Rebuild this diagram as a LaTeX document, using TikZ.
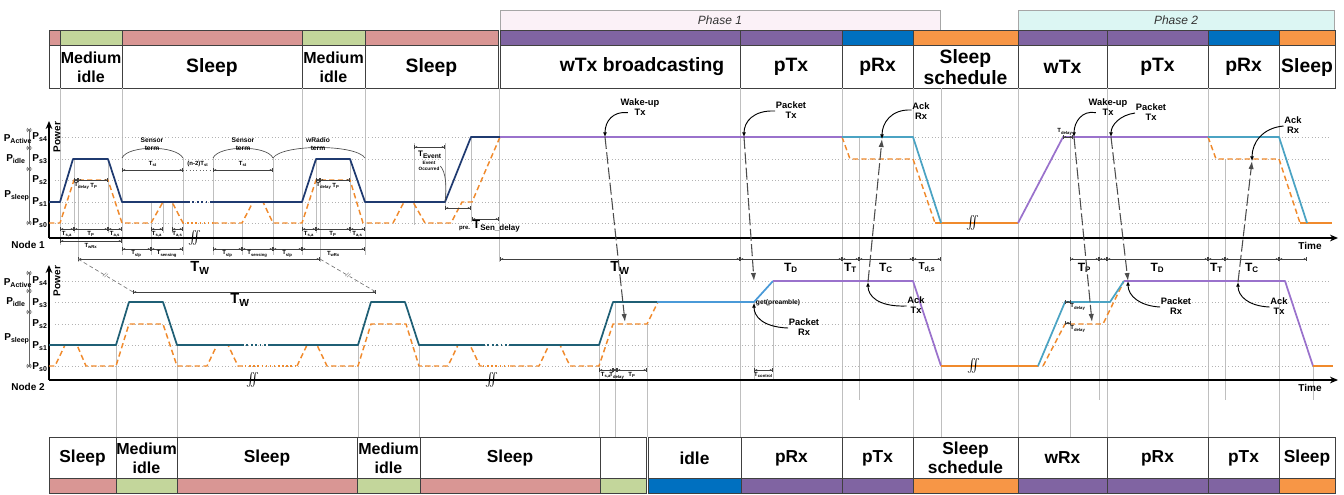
\documentclass[tikz,border=0pt]{standalone}
\usepackage{fontspec}
\setmainfont{Liberation Sans}
\usetikzlibrary{arrows.meta}
\definecolor{redbar}{HTML}{D99694}
\definecolor{greenbar}{HTML}{C3D69B}
\definecolor{purplebar}{HTML}{8064A2}
\definecolor{bluebar}{HTML}{0070C0}
\definecolor{orangebar}{HTML}{F79646}
\definecolor{phaseone}{HTML}{FBF1F7}
\definecolor{phasetwo}{HTML}{DCF6F3}
\definecolor{navyline}{HTML}{1F3A70}
\definecolor{tealline}{HTML}{1F5F75}
\definecolor{cyanline}{HTML}{4BA3C3}
\definecolor{skyline}{HTML}{4A9AD8}
\definecolor{violetline}{HTML}{9A72CC}
\definecolor{orangeline}{HTML}{F08A2C}
\newcommand{\Tl}[1]{T\textsubscript{#1}}
\newcommand{\Pl}[1]{P\textsubscript{#1}}

\begin{document}
\begin{tikzpicture}[
    x=0.75pt, y=-0.75pt,
    cell/.style={draw=black!75, line width=0.6pt},
    hdr/.style={font=\fontsize{14.5}{16}\selectfont\bfseries, align=center, inner sep=0pt},
    hdrsm/.style={font=\fontsize{12}{14}\selectfont\bfseries, align=center, inner sep=0pt},
    hdrb/.style={font=\fontsize{13}{14}\selectfont\bfseries, align=center, inner sep=0pt},
    phasebox/.style={draw=black!35, line width=0.5pt},
    phaselab/.style={font=\fontsize{9}{10}\selectfont\itshape, text=black!80},
    level/.style={black!30, dotted, line width=0.5pt},
    life/.style={black!25, line width=0.6pt},
    axisln/.style={line width=1pt, -{Stealth[length=6pt, width=5pt]}},
    nodeone/.style={navyline, line width=1.3pt, line join=round},
    nodetwo/.style={tealline, line width=1.3pt, line join=round},
    violet/.style={violetline, line width=1.3pt, line join=round},
    cyanl/.style={cyanline, line width=1.3pt, line join=round},
    skyl/.style={skyline, line width=1.3pt, line join=round},
    orangel/.style={orangeline, line width=1.3pt},
    actline/.style={orangeline, line width=1.1pt, dash pattern=on 4pt off 2.5pt, line join=round},
    msg/.style={black!70, line width=0.8pt, dash pattern=on 9pt off 2.5pt, -{Latex[length=6pt, width=4pt]}},
    callout/.style={black, line width=0.7pt, -{Latex[length=3.5pt, width=3pt]}},
    dim/.style={black!75, line width=0.4pt, {Bar[width=3pt]Latex[length=2pt, width=1.5pt]}-{Latex[length=2pt, width=1.5pt]Bar[width=3pt]}},
    tinyl/.style={font=\fontsize{4.5}{5}\selectfont\bfseries, inner sep=0.5pt},
    smalll/.style={font=\fontsize{5}{6}\selectfont\bfseries, align=center, inner sep=0.5pt},
    midl/.style={font=\fontsize{9}{10}\selectfont\bfseries, inner sep=0.5pt},
    bigl/.style={font=\fontsize{11}{12}\selectfont\bfseries, inner sep=0.5pt},
    lab/.style={font=\fontsize{7}{8}\selectfont\bfseries, align=center, inner sep=0.5pt},
    plab/.style={font=\fontsize{7.5}{8}\selectfont\bfseries, inner sep=0.5pt},
    brk/.style={font=\fontsize{9}{9}\selectfont, inner sep=0pt}
]
\useasboundingbox (0,0) rectangle (1344,494);

% phases
\draw[phasebox, fill=phaseone] (500,10) rectangle (940,30);
\node[phaselab] (phone) at (720,20) {Phase 1};
\draw[phasebox, fill=phasetwo] (1018,10) rectangle (1334,30);
\node[phaselab] (phtwo) at (1176,20) {Phase 2};

% node 1 states
\foreach \xa/\xb/\col/\txt/\st/\dx [count=\i] in {
    49/60/redbar/{}/hdr/0,
    60/122/greenbar/{Medium\\idle}/hdrsm/0,
    122/302/redbar/Sleep/hdr/0,
    302/365/greenbar/{Medium\\idle}/hdrsm/0,
    365/498/redbar/Sleep/hdr/0,
    500/740/purplebar/{wTx broadcasting}/hdr/22,
    740/842/purplebar/pTx/hdr/0,
    842/913/bluebar/pRx/hdr/0,
    913/1018/orangebar/{Sleep\\schedule}/hdr/0,
    1018/1107/purplebar/wTx/hdr/0,
    1107/1208/purplebar/pTx/hdr/0,
    1208/1279/bluebar/pRx/hdr/0,
    1279/1335/orangebar/Sleep/hdr/0}
{
    \fill[\col] (\xa,30) rectangle (\xb,45);
    \draw[cell] (\xa,30) rectangle (\xb,88) (\xa,45) -- (\xb,45);
    \node[\st] (top\i) at ({(\xa+\xb)/2+\dx},67) {\txt};
}

% node 2 states
\foreach \xa/\xb/\col/\txt/\st [count=\i] in {
    49/116/redbar/Sleep/hdrb,
    116/177/greenbar/{Medium\\idle}/hdrsm,
    177/357/redbar/Sleep/hdrb,
    357/420/greenbar/{Medium\\idle}/hdrsm,
    420/600/redbar/Sleep/hdrb,
    600/646/greenbar/{}/hdrb,
    648/741/bluebar/idle/hdrb,
    741/842/purplebar/pRx/hdrb,
    842/913/purplebar/pTx/hdrb,
    913/1018/orangebar/{Sleep\\schedule}/hdrb,
    1018/1107/purplebar/wRx/hdrb,
    1107/1208/purplebar/pRx/hdrb,
    1208/1279/purplebar/pTx/hdrb,
    1279/1335/orangebar/Sleep/hdrb}
{
    \fill[\col] (\xa,478) rectangle (\xb,493);
    \draw[cell] (\xa,437) rectangle (\xb,493) (\xa,478) -- (\xb,478);
    \node[\st] (bot\i) at ({(\xa+\xb)/2},458) {\txt};
}

% lifelines
\foreach \xx/\ya/\yb in {60/88/245, 74/159/233, 78/180/262, 108/159/233, 122/88/255,
    151/202/255, 163/202/233, 172/202/233, 183/158/255, 213/158/255, 242/223/255,
    273/158/255, 302/88/255, 316/159/233, 320/180/262, 350/159/233, 365/88/255,
    414/143/225, 445/143/210, 471/137/222, 499/88/262, 116/345/437, 177/345/437,
    358/345/437, 419/345/437, 599/345/437, 615/302/437, 647/324/437, 740/88/437,
    754/302/380, 773/281/380, 842/88/437, 859/137/400, 913/88/437, 941/88/437,
    1018/88/437, 1070/137/437, 1099/137/400, 1107/88/437, 1208/88/437, 1225/159/400,
    1279/88/437, 1313/366/400}
    \draw[life] (\xx,\ya) -- (\xx,\yb);

% power levels
\foreach \yy in {137,159,180,202,223,281,302,324,345,366}
    \draw[level] (55,\yy) -- (1330,\yy);
\foreach \yy/\k [count=\i] in {137/4,159/3,180/2,202/1,223/0} {
    \node[plab] (pa\i) at (40,\yy) {\Pl{s\k}};
    \node[plab] (pb\i) at (40,\yy+144) {\Pl{s\k}};
}
\foreach \ya/\yb/\yc/\yd [count=\i] in {130/148/169/223, 273/291/312/366} {
    \draw[black!60, line width=0.5pt] (29,\ya) -- (29,\yd);
    \foreach \yy in {\ya,\yb,\yc,\yd}
        \draw[black!60, line width=0.5pt] (26,\yy) -- (32,\yy) (27,\yy-2) -- (31,\yy+2) (27,\yy+2) -- (31,\yy-2);
}
\node[plab] (pact1) at (18,139) {\Pl{Active}};
\node[plab] (pidl1) at (16,159) {\Pl{idle}};
\node[plab] (pslp1) at (17,196) {\Pl{sleep}};
\node[plab] (pact2) at (18,283) {\Pl{Active}};
\node[plab] (pidl2) at (16,302) {\Pl{idle}};
\node[plab] (pslp2) at (17,339) {\Pl{sleep}};

% axes
\draw[axisln] (49,238) -- (1338,238);
\draw[axisln] (49,238) -- (49,121);
\draw[axisln] (49,380) -- (1338,380);
\draw[axisln] (49,380) -- (49,265);
\node[plab, rotate=90] (pow1) at (57,137) {Power};
\node[plab, rotate=90] (pow2) at (57,281) {Power};
\node[plab] (time1) at (1310,246) {Time};
\node[plab] (time2) at (1310,388) {Time};
\node[plab] (nd1) at (28,245) {Node 1};
\node[plab] (nd2) at (28,387) {Node 2};

% node 1 power
\draw[actline] (49,223) -- (60,223) -- (74,180) -- (108,180) -- (122,223) -- (151,223) -- (163,202) -- (172,202) -- (183,223);
\draw[actline, dotted] (183,223) -- (213,223);
\draw[actline] (213,223) -- (242,223) -- (253,202) -- (263,202) -- (273,223) -- (302,223) -- (316,180) -- (350,180) -- (363,223) -- (393,223) -- (404,202) -- (413,202) -- (425,223) -- (451,223) -- (462,202) -- (472,202) -- (500,137);
\draw[nodeone] (49,202) -- (60,202) -- (73,159) -- (108,159) -- (122,202) -- (188,202);
\draw[nodeone, dotted] (188,202) -- (212,202);
\draw[nodeone] (212,202) -- (302,202) -- (316,159) -- (350,159) -- (365,202) -- (445,202) -- (471,137) -- (500,137);
\draw[violet] (500,137) -- (842,137);
\draw[actline] (842,137) -- (850,159) -- (913,159) -- (935,223);
\draw[orangel] (935,223) -- (1018,223);
\draw[cyanl] (842,137) -- (913,137) -- (941,223);
\draw[violet] (1018,223) -- (1063,137) -- (1208,137);
\draw[actline] (1208,137) -- (1216,159) -- (1279,159) -- (1300,223);
\draw[orangel] (1300,223) -- (1332,223);
\draw[cyanl] (1208,137) -- (1279,137) -- (1307,223);

% node 2 power
\draw[actline] (49,366) -- (55,366) -- (65,345) -- (77,345) -- (86,366) -- (116,366) -- (129,324) -- (163,324) -- (177,366) -- (207,366) -- (217,345) -- (228,345) -- (238,366) -- (245,366);
\draw[actline, dotted] (245,366) -- (297,366);
\draw[actline] (297,366) -- (307,345) -- (317,345) -- (327,366) -- (358,366) -- (371,324) -- (406,324) -- (419,366) -- (448,366) -- (458,345) -- (470,345) -- (480,366) -- (483,366);
\draw[actline, dotted] (483,366) -- (510,366);
\draw[actline] (510,366) -- (539,366) -- (549,345) -- (560,345) -- (570,366) -- (599,366) -- (613,324) -- (647,324) -- (658,302);
\draw[actline] (1043,366) -- (1065,324) -- (1103,324) -- (1124,281);
\draw[nodetwo] (49,345) -- (116,345) -- (129,302) -- (163,302) -- (177,345) -- (242,345);
\draw[nodetwo, dotted] (242,345) -- (268,345);
\draw[nodetwo] (268,345) -- (358,345) -- (371,302) -- (405,302) -- (419,345) -- (483,345);
\draw[nodetwo, dotted] (483,345) -- (510,345);
\draw[nodetwo] (510,345) -- (599,345) -- (613,302) -- (657,302);
\draw[skyl] (657,302) -- (754,302) -- (773,281);
\draw[violet] (773,281) -- (913,281) -- (941,366);
\draw[orangel] (941,366) -- (1038,366);
\draw[cyanl] (1038,366) -- (1065,302) -- (1110,302) -- (1124,281);
\draw[violet] (1124,281) -- (1285,281) -- (1313,366);
\draw[orangel] (1313,366) -- (1333,366);

% breaks
\foreach \xx/\yy [count=\i] in {195/238, 973/223, 253/380, 492/380, 974/366}
    \node[brk] (brk\i) at (\xx,\yy) {$\int\!\!\!\int$};

% node 1 timing
\foreach \xa/\xb/\yy/\txt [count=\i] in {
    60/74/229/{\Tl{s,a}}, 74/108/229/{\Tl{P}}, 108/122/229/{\Tl{a,s}},
    151/163/229/{\Tl{s,a}}, 172/183/229/{\Tl{a,s}},
    302/316/229/{\Tl{s,a}}, 316/350/229/{\Tl{P}}, 350/365/229/{\Tl{a,s}},
    60/122/241/{\Tl{wRx}},
    122/151/249/{\Tl{slp}}, 151/183/249/{\Tl{sensing}}, 213/242/249/{\Tl{slp}},
    242/273/249/{\Tl{sensing}}, 273/302/249/{\Tl{slp}}, 302/365/249/{\Tl{wRx}},
    599/613/370/{\Tl{s,a}}, 617/647/370/{\Tl{P}}, 754/773/370/{\Tl{control}}}
{
    \draw[dim] (\xa,\yy) -- (\xb,\yy);
    \node[tinyl] (tm\i) at ({(\xa+\xb)/2},\yy+5) {\txt};
}
\draw[dim] (613,370) -- (617,370);
\node[tinyl] (tmd) at (617,376) {\Tl{delay}};
\foreach \xa [count=\i] in {74,316} {
    \draw[dim] (\xa,180) -- (\xa+4,180);
    \draw[dim] (\xa+4,180) -- (\xa+34,180);
    \node[tinyl] (dl\i) at (\xa+8,186) {\Tl{delay}};
    \node[tinyl] (tp\i) at (\xa+20,186) {\Tl{P}};
}
\draw[dim] (1063,137) -- (1073,137);
\node[tinyl] (dlc) at (1065,132) {\Tl{delay}};
\draw[dim] (1065,302) -- (1071,302);
\node[tinyl] (dld) at (1078,307) {\Tl{delay}};
\draw[dim] (1065,323) -- (1071,323);
\node[tinyl] (dle) at (1078,329) {\Tl{delay}};

% sensor terms
\draw[dim] (122,170) -- (183,170);
\node[tinyl] (st1) at (153,164) {\Tl{st}};
\draw[black!60, line width=0.5pt, dotted] (183,170) -- (213,170);
\node[tinyl] (stn) at (198,164) {(n-2)\Tl{st}};
\draw[dim] (213,170) -- (273,170);
\node[tinyl] (st2) at (243,164) {\Tl{st}};
\draw[black!70, line width=0.5pt] (122,158) .. controls (128,145) and (176,145) .. (183,158);
\draw[black!70, line width=0.5pt] (213,158) .. controls (219,145) and (267,145) .. (273,158);
\draw[black!70, line width=0.5pt] (273,158) .. controls (282,144) and (356,144) .. (365,158);
\node[smalll] (sen1) at (152,144) {Sensor\\term};
\node[smalll] (sen2) at (243,144) {Sensor\\term};
\node[smalll] (wrt) at (318,144) {wRadio\\term};

% event
\draw[dim] (414,147) -- (445,147);
\node[tinyl, font=\fontsize{6}{6}\selectfont\bfseries] (tev) at (430,155) {\Tl{Event}};
\node[smalll, font=\fontsize{3.5}{4}\selectfont\bfseries] (evo) at (429,166) {Event\\Occurred};
\coordinate (evp) at (445,202);
\draw[black!70, line width=0.5pt] (evo.east) .. controls (446,172) and (447,188) .. (evp);
\draw[dim] (445,208) -- (471,208);
\draw[dim] (472,219) -- (499,219);
\node[tinyl, anchor=east] (pre) at (471,228) {pre.};
\node[midl, anchor=west] (tsd) at (472,226) {T\textsubscript{Sen\_delay}};

% between nodes
\coordinate (tws1) at (78,259);
\coordinate (tws2) at (320,259);
\coordinate (twr1) at (133,292);
\coordinate (twr2) at (376,292);
\draw[dim] (tws1) -- (tws2);
\node[bigl] (tw1) at (200,268) {\Tl{W}};
\draw[dim] (twr1) -- (twr2);
\node[bigl] (tw2) at (240,300) {\Tl{W}};
\draw[black!55, line width=0.5pt, dash pattern=on 3pt off 2pt] (tws1) -- node[sloped, font=\tiny, fill=white, inner sep=0pt] (sl1) {//} (twr1);
\draw[black!55, line width=0.5pt, dash pattern=on 3pt off 2pt] (tws2) -- node[sloped, font=\tiny, fill=white, inner sep=0pt] (sl2) {//} (twr2);

\foreach \xa/\xb/\txt/\st [count=\i] in {
    500/740/{\Tl{W}}/bigl, 740/842/{\Tl{D}}/midl, 842/859/{\Tl{T}}/midl,
    859/913/{\Tl{C}}/midl, 913/941/{\Tl{d,s}}/plab,
    1070/1099/{\Tl{P}}/midl, 1099/1107/{}/midl, 1107/1208/{\Tl{D}}/midl,
    1208/1225/{\Tl{T}}/midl, 1225/1279/{\Tl{C}}/midl, 1279/1307/{}/midl}
{
    \draw[dim] (\xa,259) -- (\xb,259);
    \node[\st] (ph\i) at ({(\xa+\xb)/2},268) {\txt};
}

% messages
\coordinate (wka) at (605,137);
\coordinate (wkb) at (625,322);
\coordinate (pka) at (744,137);
\coordinate (pkb) at (754,281);
\coordinate (ackb) at (868,282);
\coordinate (acka) at (882,139);
\coordinate (wkc) at (1074,137);
\coordinate (wkd) at (1092,322);
\coordinate (pkc) at (1111,137);
\coordinate (pkd) at (1128,281);
\coordinate (ackd) at (1238,282);
\coordinate (ackc) at (1252,161);
\coordinate (pre2) at (754,303);
\draw[msg] (wka) -- (wkb);
\draw[msg] (pka) -- (pkb);
\draw[msg] (ackb) -- (acka);
\draw[msg] (wkc) -- (wkd);
\draw[msg] (pkc) -- (pkd);
\draw[msg] (ackd) -- (ackc);

\node[lab] (wkl) at (640,107) {Wake-up\\Tx};
\node[lab] (pkl) at (791,110) {Packet\\Tx};
\node[lab] (akl) at (921,111) {Ack\\Rx};
\node[lab] (prl) at (804,327) {Packet\\Rx};
\node[lab] (atl) at (916,305) {Ack\\Tx};
\node[lab] (wkl2) at (1108,107) {Wake-up\\Tx};
\node[lab] (pkl2) at (1151,112) {Packet\\Tx};
\node[lab] (akl2) at (1293,125) {Ack\\Rx};
\node[lab] (prl2) at (1176,306) {Packet\\Rx};
\node[lab] (atl2) at (1279,306) {Ack\\Tx};
\node[tinyl, font=\fontsize{5}{5}\selectfont\bfseries] (gpr) at (778,303) {get(preamble)};

\draw[callout] (wkl.south west) ++(8,-4) .. controls (613,111) and (605,121) .. (wka);
\draw[callout] (pkl.west) ++(0,1) .. controls (753,110) and (744,122) .. (pka);
\draw[callout] (akl.west) ++(0,-1) .. controls (891,109) and (882,123) .. (acka);
\draw[callout] (prl.west) ++(0,1) .. controls (762,327) and (754,316) .. (pre2);
\draw[callout] (atl.west) ++(0,1) .. controls (878,307) and (868,296) .. (ackb);
\draw[callout] (wkl2.south west) ++(8,-4) .. controls (1082,110) and (1074,122) .. (wkc);
\draw[callout] (pkl2.west) ++(0,1) .. controls (1120,115) and (1111,125) .. (pkc);
\draw[callout] (akl2.west) ++(0,1) .. controls (1262,128) and (1252,143) .. (ackc);
\draw[callout] (prl2.west) ++(0,1) .. controls (1140,306) and (1128,296) .. (pkd);
\draw[callout] (atl2.west) ++(0,1) .. controls (1248,306) and (1238,296) .. (ackd);
\end{tikzpicture}
\end{document}
